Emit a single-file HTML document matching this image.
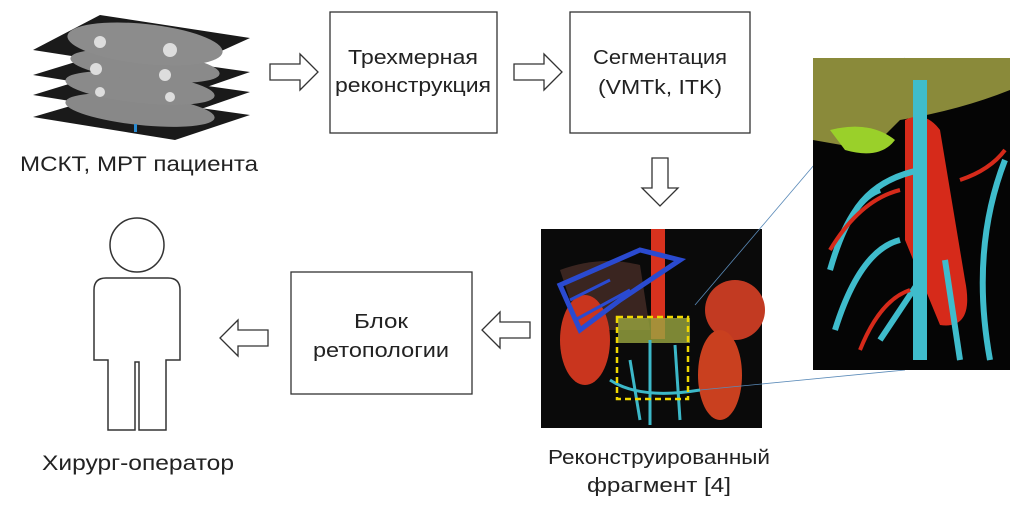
<!DOCTYPE html>
<html><head><meta charset="utf-8"><style>
body{margin:0;background:#fff;width:1024px;height:506px;overflow:hidden;font-family:"Liberation Sans","DejaVu Sans",sans-serif;}
text{font-family:"Liberation Sans","DejaVu Sans",sans-serif;fill:#222;}
</style></head><body>
<svg width="1024" height="506" viewBox="0 0 1024 506" xmlns="http://www.w3.org/2000/svg">
<!-- CT slices -->
<g>
<polygon points="33,117 108,95 250,115 175,140" fill="#1a1a1a"/>
<polygon points="33,95 108,72 250,92 175,118" fill="#1a1a1a"/>
<ellipse cx="140" cy="110" rx="75" ry="15" fill="#888" transform="rotate(6 140 110)"/>
<polygon points="33,75 108,52 250,72 175,98" fill="#1a1a1a"/>
<ellipse cx="140" cy="88" rx="75" ry="15" fill="#8a8a8a" transform="rotate(6 140 88)"/>
<polygon points="33,50 100,15 250,38 175,72" fill="#1a1a1a"/>
<ellipse cx="145" cy="66" rx="75" ry="15" fill="#8a8a8a" transform="rotate(6 145 66)"/>
<ellipse cx="145" cy="44" rx="78" ry="20" fill="#8c8c8c" transform="rotate(6 145 44)"/>
<circle cx="100" cy="42" r="6" fill="#ddd"/><circle cx="170" cy="50" r="7" fill="#ddd"/>
<circle cx="96" cy="69" r="6" fill="#ddd"/><circle cx="165" cy="75" r="6" fill="#ddd"/>
<circle cx="100" cy="92" r="5" fill="#ddd"/><circle cx="170" cy="97" r="5" fill="#ddd"/>
<rect x="134" y="124" width="3" height="8" fill="#2a8ad0"/>
</g>
<text x="20" y="171" font-size="21" textLength="238" lengthAdjust="spacingAndGlyphs">МСКТ,  МРТ  пациента</text>
<defs>
<path id="ar" d="M0,-8 H30 V-18 L48,0 L30,18 V8 H0 Z" fill="#fff" stroke="#333" stroke-width="1.3"/>
</defs>
<use href="#ar" x="270" y="72"/>
<use href="#ar" x="514" y="72"/>
<use href="#ar" transform="translate(660,158) rotate(90)"/>
<use href="#ar" transform="translate(530,330) rotate(180)"/>
<use href="#ar" transform="translate(268,338) rotate(180)"/>
<!-- boxes -->
<rect x="330" y="12" width="167" height="121" fill="#fff" stroke="#333" stroke-width="1.3"/>
<text x="413" y="64" font-size="20" text-anchor="middle" textLength="130" lengthAdjust="spacingAndGlyphs">Трехмерная</text>
<text x="413" y="92" font-size="20" text-anchor="middle" textLength="156" lengthAdjust="spacingAndGlyphs">реконструкция</text>
<rect x="570" y="12" width="180" height="121" fill="#fff" stroke="#333" stroke-width="1.3"/>
<text x="660" y="64" font-size="20" text-anchor="middle" textLength="134" lengthAdjust="spacingAndGlyphs">Сегментация</text>
<text x="660" y="94" font-size="20" text-anchor="middle" textLength="124" lengthAdjust="spacingAndGlyphs">(VMTk,  ITK)</text>
<rect x="291" y="272" width="181" height="122" fill="#fff" stroke="#333" stroke-width="1.3"/>
<text x="381" y="328" font-size="20" text-anchor="middle" textLength="54" lengthAdjust="spacingAndGlyphs">Блок</text>
<text x="381" y="357" font-size="20" text-anchor="middle" textLength="136" lengthAdjust="spacingAndGlyphs">ретопологии</text>
<!-- person -->
<circle cx="137" cy="245" r="27" fill="#fff" stroke="#333" stroke-width="1.5"/>
<path d="M108,430 V360 H94 V290 Q94,278 106,278 H168 Q180,278 180,290 V360 H166 V430 H139 V362 H135 V430 Z" fill="#fff" stroke="#333" stroke-width="1.5"/>
<text x="42" y="470" font-size="21" textLength="192" lengthAdjust="spacingAndGlyphs">Хирург-оператор</text>
<!-- small image -->
<rect x="541" y="229" width="221" height="199" fill="#0a0a0a"/>
<path d="M560,270 Q600,255 640,265 L650,330 L580,330 Z" fill="#3a2520"/>
<ellipse cx="585" cy="340" rx="25" ry="45" fill="#c9351e"/>
<ellipse cx="735" cy="310" rx="30" ry="30" fill="#c23a22"/>
<ellipse cx="720" cy="375" rx="22" ry="45" fill="#c9401f"/>
<rect x="651" y="229" width="14" height="110" fill="#d8321e"/>
<path d="M560,285 L640,250 L680,260 L620,300 L580,330 Z" fill="none" stroke="#2a4ad0" stroke-width="5"/>
<path d="M570,300 L610,280 M575,320 L630,290" stroke="#2a4ad0" stroke-width="3"/>
<rect x="618" y="318" width="72" height="25" fill="#9aa640" opacity="0.8"/>
<path d="M650,340 V425 M630,360 L640,420 M675,345 L680,420 M610,380 Q640,400 700,390" stroke="#3cb8c8" stroke-width="3" fill="none"/>
<rect x="617" y="317" width="71" height="82" fill="none" stroke="#f0d800" stroke-width="2.5" stroke-dasharray="6,4"/>
<line x1="695" y1="305" x2="905" y2="58" stroke="#5a8ab8" stroke-width="0.8"/>
<line x1="700" y1="390" x2="905" y2="370" stroke="#5a8ab8" stroke-width="0.8"/>
<!-- big image -->
<rect x="813" y="58" width="197" height="312" fill="#050505"/>
<path d="M813,58 H1010 V90 Q960,110 900,120 L870,150 L813,140 Z" fill="#8a8a3a"/>
<path d="M830,130 Q870,120 895,140 Q880,160 845,150 Z" fill="#9ad02a"/>
<path d="M905,120 Q925,110 940,130 L965,280 Q975,330 940,325 L905,240 Z" fill="#d62a1a"/>
<path d="M920,80 V360" stroke="#3fbccc" stroke-width="14" fill="none"/>
<path d="M880,340 L920,280 M960,360 L945,260 M835,330 Q860,250 900,240 M990,360 Q970,250 1005,160 M850,220 Q870,180 920,170 M830,270 Q850,200 880,190" stroke="#3fbccc" stroke-width="6" fill="none"/>
<path d="M830,250 Q860,200 900,190 M960,180 Q990,170 1005,150 M860,350 Q880,300 910,290" stroke="#d62a1a" stroke-width="4" fill="none"/>
<text x="659" y="464" font-size="20" text-anchor="middle" textLength="222" lengthAdjust="spacingAndGlyphs">Реконструированный</text>
<text x="659" y="492" font-size="20" text-anchor="middle" textLength="144" lengthAdjust="spacingAndGlyphs">фрагмент  [4]</text>
</svg>
</body></html>
